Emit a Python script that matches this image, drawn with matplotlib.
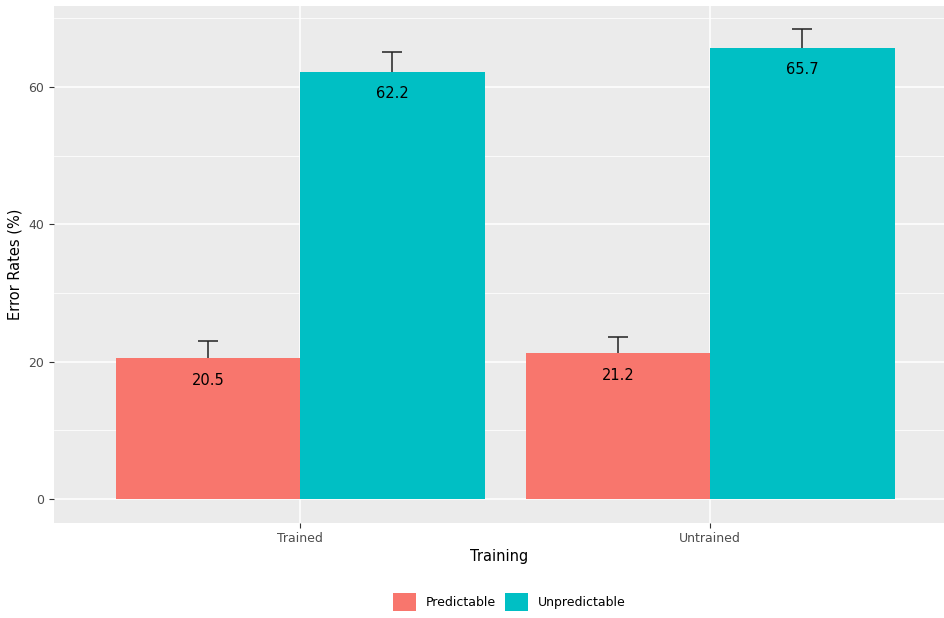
import numpy as np
import matplotlib.pyplot as plt
from matplotlib.patches import Patch

training = ['Trained', 'Untrained']
groups = ['Predictable', 'Unpredictable']
err_rate = {'Predictable': [20.5, 21.2], 'Unpredictable': [62.2, 65.7]}
err_se = {'Predictable': [2.5, 2.4], 'Unpredictable': [2.9, 2.7]}
colors = {'Predictable': '#F8766D', 'Unpredictable': '#00BFC4'}

fig = plt.figure(figsize=(9.45, 6.18), dpi=100)
ax = fig.add_axes([54/945, 1 - 522.5/618, 1 - 54/945, (522.5 - 6)/618])
ax.set_facecolor('#EBEBEB')

x = np.arange(1, len(training) + 1)
w = 0.45
for i, g in enumerate(groups):
    xpos = x + (i - 0.5) * w
    vals = np.array(err_rate[g])
    se = np.array(err_se[g])
    # error bars drawn under the bars, so the lower cap is hidden
    ax.errorbar(xpos, vals, yerr=se, fmt='none',
                ecolor='#222222', elinewidth=1.1, capsize=7.5, capthick=1.1, zorder=2)
    ax.bar(xpos, vals, width=w, color=colors[g], zorder=3)
    for xp, v in zip(xpos, vals):
        ax.text(xp, v - 3.2, f'{v:.1f}', ha='center', va='center', fontsize=10.5,
                color='black', zorder=5)

ax.set_xlim(0.4, 2.573)
ax.set_ylim(-3.42, 71.8)
ax.set_yticks([0, 20, 40, 60])
ax.set_yticks([10, 30, 50, 70], minor=True)
ax.set_xticks(x)
ax.set_xticklabels(training)
ax.grid(which='major', color='white', linewidth=1.1, zorder=0)
ax.grid(which='minor', axis='y', color='white', linewidth=0.55, zorder=0)
ax.set_axisbelow(True)
for s in ax.spines.values():
    s.set_visible(False)
ax.tick_params(which='major', length=3.5, width=0.8, color='#333333',
               labelsize=9, labelcolor='#4D4D4D', pad=3.5)
ax.tick_params(which='minor', length=0)

ax.set_xlabel('Training', fontsize=10.5, labelpad=3)
ax.set_ylabel('Error Rates (%)', fontsize=10.5, labelpad=4)

handles = [Patch(facecolor=colors[g], edgecolor='none', label=g) for g in groups]
fig.legend(handles=handles, loc='center', bbox_to_anchor=(0.539, 1 - 602/618), ncol=2,
           frameon=False, fontsize=9, handlelength=1.85, handleheight=1.85,
           handletextpad=0.8, columnspacing=0.75)

fig.savefig('out.png', dpi=100)
